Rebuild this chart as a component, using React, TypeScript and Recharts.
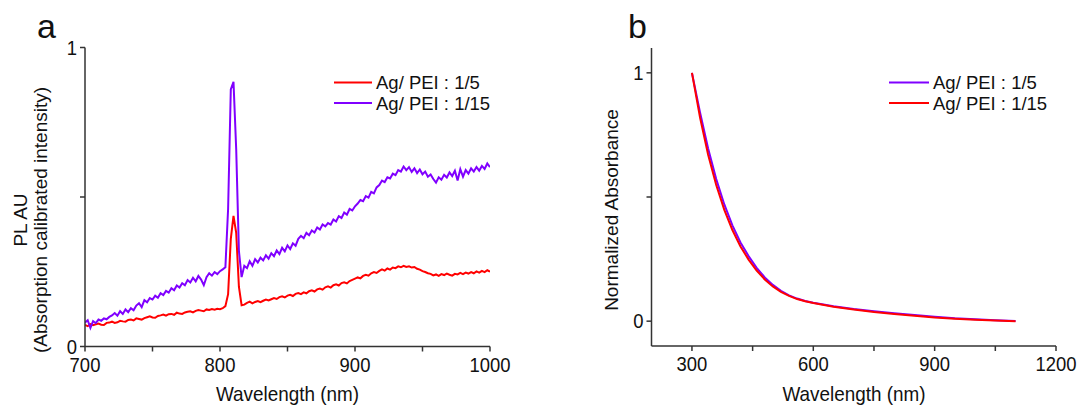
import React from 'react';
import { LineChart, Line, XAxis, YAxis, Legend } from 'recharts';

// ---------- Panel a: PL spectra (700–1000 nm, every 2 nm) ----------
const PL_RED_1_5 = [
  0.072,0.068,0.075,0.071,0.074,0.077,0.073,0.072,0.079,0.080,
  0.083,0.079,0.081,0.086,0.084,0.083,0.089,0.090,0.087,0.094,
  0.092,0.090,0.095,0.098,0.101,0.097,0.096,0.102,0.104,0.107,
  0.103,0.108,0.109,0.106,0.113,0.110,0.109,0.114,0.116,0.118,
  0.114,0.119,0.122,0.120,0.118,0.124,0.122,0.125,0.123,0.126,
  0.125,0.128,0.135,0.175,0.360,0.437,0.380,0.200,0.138,0.140,
  0.146,0.150,0.144,0.149,0.152,0.148,0.153,0.157,0.154,0.158,
  0.162,0.159,0.165,0.168,0.164,0.170,0.173,0.169,0.176,0.179,
  0.175,0.181,0.178,0.185,0.188,0.184,0.191,0.194,0.190,0.198,
  0.201,0.197,0.205,0.208,0.204,0.212,0.215,0.211,0.219,0.223,
  0.227,0.231,0.228,0.236,0.240,0.237,0.245,0.249,0.246,0.253,
  0.258,0.254,0.261,0.257,0.264,0.262,0.268,0.265,0.270,0.266,
  0.268,0.264,0.266,0.260,0.257,0.252,0.249,0.245,0.243,0.238,
  0.241,0.236,0.242,0.239,0.244,0.240,0.237,0.243,0.241,0.246,
  0.242,0.247,0.244,0.249,0.245,0.251,0.247,0.253,0.249,0.255,
  0.250,
];
const PL_VIOLET_1_15 = [
  0.080,0.088,0.062,0.085,0.078,0.090,0.086,0.094,0.091,0.099,
  0.104,0.112,0.103,0.118,0.109,0.124,0.115,0.128,0.121,0.137,
  0.145,0.132,0.155,0.148,0.162,0.157,0.170,0.163,0.178,0.172,
  0.186,0.180,0.195,0.188,0.204,0.197,0.212,0.205,0.222,0.214,
  0.230,0.218,0.236,0.224,0.205,0.232,0.245,0.237,0.249,0.242,
  0.252,0.258,0.265,0.460,0.860,0.885,0.660,0.320,0.232,0.270,
  0.262,0.285,0.270,0.292,0.281,0.297,0.288,0.305,0.294,0.312,
  0.302,0.321,0.309,0.330,0.318,0.338,0.326,0.345,0.337,0.360,
  0.370,0.362,0.380,0.372,0.388,0.381,0.398,0.391,0.408,0.402,
  0.413,0.408,0.425,0.418,0.436,0.430,0.448,0.441,0.460,0.455,
  0.469,0.478,0.490,0.486,0.503,0.498,0.517,0.512,0.532,0.540,
  0.555,0.550,0.566,0.562,0.578,0.573,0.590,0.585,0.602,0.590,
  0.600,0.584,0.596,0.580,0.592,0.576,0.585,0.568,0.575,0.560,
  0.548,0.566,0.558,0.574,0.565,0.582,0.570,0.588,0.555,0.593,
  0.568,0.590,0.578,0.596,0.585,0.600,0.588,0.604,0.594,0.612,
  0.600,
];
const PL_WAVELENGTHS = PL_RED_1_5.map((_, i) => 700 + 2 * i);
const PL_X_TICKS = [700, 750, 800, 850, 900, 950, 1000];
const PL_X_LABELS = [700, 800, 900, 1000];
const PL_Y_TICKS = [0, 0.5, 1];

// ---------- Panel b: normalized absorbance ----------
const ABS_WAVELENGTHS = [300,320,340,360,380,400,420,440,460,480,500,520,540,560,580,600,650,700,750,800,850,900,950,1000,1050,1100];
const ABS_VIOLET_1_5 = [1.000,0.840,0.695,0.572,0.470,0.386,0.317,0.262,0.215,0.176,0.146,0.122,0.104,0.091,0.081,0.074,0.060,0.049,0.040,0.032,0.025,0.018,0.012,0.008,0.004,0.001];
const ABS_RED_1_15 = [1.000,0.820,0.670,0.548,0.448,0.367,0.301,0.248,0.204,0.168,0.140,0.118,0.102,0.089,0.080,0.073,0.058,0.047,0.037,0.029,0.022,0.015,0.010,0.006,0.003,0.000];
const ABS_X_TICKS = [300, 450, 600, 750, 900, 1050, 1200];
const ABS_X_LABELS = [300, 600, 900, 1200];
const ABS_Y_TICKS = [0, 0.5, 1];
const Y_LABELS = [0, 1];

const LABEL_A1 = 'Ag/ PEI : 1/5';
const LABEL_A2 = 'Ag/ PEI : 1/15';

const RED = '#ff0000';
const VIOLET = '#8000ff';
const AXIS = '#333333';
const FONT = '"Liberation Sans", Arial, Helvetica, sans-serif';
const TICK_FS = 20.5;
const TICK_SX = 0.9;

const plData = PL_WAVELENGTHS.map((w, i) => ({ w, r: PL_RED_1_5[i], v: PL_VIOLET_1_15[i] }));
const absData = ABS_WAVELENGTHS.map((w, i) => ({ w, v5: ABS_VIOLET_1_5[i], r15: ABS_RED_1_15[i] }));

function makeXTick(labels: number[]) {
  return (props: any) => {
    const { x, y, payload } = props;
    const v = payload?.value;
    if (!labels.includes(v)) return <g />;
    return (
      <g transform={`translate(${x},${y})`}>
        <text transform={`scale(${TICK_SX},1)`} textAnchor="middle" dy={18} fontSize={TICK_FS} fontFamily={FONT} fill="#111">{String(v)}</text>
      </g>
    );
  };
}
function makeYTick(labels: number[]) {
  return (props: any) => {
    const { x, y, payload } = props;
    const v = payload?.value;
    if (!labels.includes(v)) return <g />;
    return (
      <g transform={`translate(${x},${y})`}>
        <text transform={`scale(${TICK_SX},1)`} textAnchor="end" dy={7.3} fontSize={TICK_FS} fontFamily={FONT} fill="#111">{String(v)}</text>
      </g>
    );
  };
}

function LegendBox({ items, lineLen }: { items: { color: string; label: string }[]; lineLen: number }) {
  return (
    <svg width={160} height={46} style={{ display: 'block', overflow: 'visible' }}>
      {items.map((it, i) => (
        <g key={i}>
          <line x1={0} x2={lineLen} y1={12.5 + i * 20.6} y2={12.5 + i * 20.6} stroke={it.color} strokeWidth={2} />
          <text x={lineLen + 4} y={12.5 + i * 20.6 + 6.5} fontSize={18.5} fontFamily={FONT} fill="#111">{it.label}</text>
        </g>
      ))}
    </svg>
  );
}

export default function App() {
  return (
    <div style={{ position: 'absolute', left: 0, top: 0, width: 1078, height: 407, background: '#fff', fontFamily: FONT }}>
      {/* Panel a */}
      <div style={{ position: 'absolute', left: 0, top: 0 }}>
        <LineChart width={540} height={407} data={plData} margin={{ top: 47.5, right: 50, bottom: 30.5, left: 25 }}>
          <XAxis dataKey="w" type="number" domain={[700, 1000]} ticks={PL_X_TICKS} allowDataOverflow
            stroke={AXIS} strokeWidth={1.5} tickSize={5} tickMargin={2} height={30} tick={makeXTick(PL_X_LABELS)} interval={0} />
          <XAxis xAxisId="top" orientation="top" dataKey="w" type="number" domain={[700, 1000]} tick={false} tickLine={false} height={0} stroke={AXIS} strokeWidth={1.5} />
          <YAxis type="number" domain={[0, 1]} ticks={PL_Y_TICKS} allowDataOverflow
            stroke={AXIS} strokeWidth={1.5} tickSize={5} tickMargin={3} width={60} tick={makeYTick(Y_LABELS)} interval={0} />
          <YAxis yAxisId="right" orientation="right" type="number" domain={[0, 1]} tick={false} tickLine={false} width={0} stroke={AXIS} strokeWidth={1.5} />
          <Legend layout="horizontal" verticalAlign="middle" align="center"
            wrapperStyle={{ position: 'absolute', left: 334, top: 70, width: 170, height: 46 }}
            content={() => <LegendBox lineLen={38} items={[{ color: RED, label: LABEL_A1 }, { color: VIOLET, label: LABEL_A2 }]} />} />
          <Line dataKey="r" stroke={RED} strokeWidth={2} dot={false} isAnimationActive={false} />
          <Line dataKey="v" stroke={VIOLET} strokeWidth={2} dot={false} isAnimationActive={false} />
        </LineChart>
      </div>

      {/* Panel b */}
      <div style={{ position: 'absolute', left: 540, top: 0 }}>
        <LineChart width={538} height={407} data={absData} margin={{ top: 48, right: 22, bottom: 31, left: 51.5 }}>
          <XAxis dataKey="w" type="number" domain={[200, 1200]} ticks={ABS_X_TICKS} allowDataOverflow
            stroke={AXIS} strokeWidth={1.5} tickSize={5} tickMargin={2} height={30} tick={makeXTick(ABS_X_LABELS)} interval={0} />
          <XAxis xAxisId="top" orientation="top" dataKey="w" type="number" domain={[200, 1200]} tick={false} tickLine={false} height={0} stroke={AXIS} strokeWidth={1.5} />
          <YAxis type="number" domain={[-0.1, 1.1]} ticks={ABS_Y_TICKS} allowDataOverflow
            stroke={AXIS} strokeWidth={1.5} tickSize={5} tickMargin={3} width={60} tick={makeYTick(Y_LABELS)} interval={0} />
          <YAxis yAxisId="right" orientation="right" type="number" domain={[-0.1, 1.1]} tick={false} tickLine={false} width={0} stroke={AXIS} strokeWidth={1.5} />
          <Legend layout="horizontal" verticalAlign="middle" align="center"
            wrapperStyle={{ position: 'absolute', left: 349, top: 70, width: 180, height: 46 }}
            content={() => <LegendBox lineLen={40} items={[{ color: VIOLET, label: LABEL_A1 }, { color: RED, label: LABEL_A2 }]} />} />
          <Line dataKey="v5" stroke={VIOLET} strokeWidth={2} dot={false} isAnimationActive={false} />
          <Line dataKey="r15" stroke={RED} strokeWidth={2} dot={false} isAnimationActive={false} />
        </LineChart>
      </div>

      {/* Panel letters and axis titles */}
      <svg width={1078} height={407} style={{ position: 'absolute', left: 0, top: 0, pointerEvents: 'none' }}>
        <text x={37} y={38} fontSize={34} fontFamily={FONT} fill="#111">a</text>
        <text x={628} y={38} fontSize={34} fontFamily={FONT} fill="#111">b</text>
        <text transform="translate(287.5,401) scale(0.9,1)" fontSize={21} fontFamily={FONT} fill="#111" textAnchor="middle">Wavelength (nm)</text>
        <text transform="translate(854,401) scale(0.9,1)" fontSize={21} fontFamily={FONT} fill="#111" textAnchor="middle">Wavelength (nm)</text>
        <text transform="translate(27,220) rotate(-90)" fontSize={19} fontFamily={FONT} fill="#111" textAnchor="middle">PL AU</text>
        <text transform="translate(47,220) rotate(-90)" fontSize={19} fontFamily={FONT} fill="#111" textAnchor="middle">(Absorption calibrated intensity)</text>
        <text transform="translate(618,210) rotate(-90)" fontSize={19} fontFamily={FONT} fill="#111" textAnchor="middle">Normalized Absorbance</text>
      </svg>
    </div>
  );
}
